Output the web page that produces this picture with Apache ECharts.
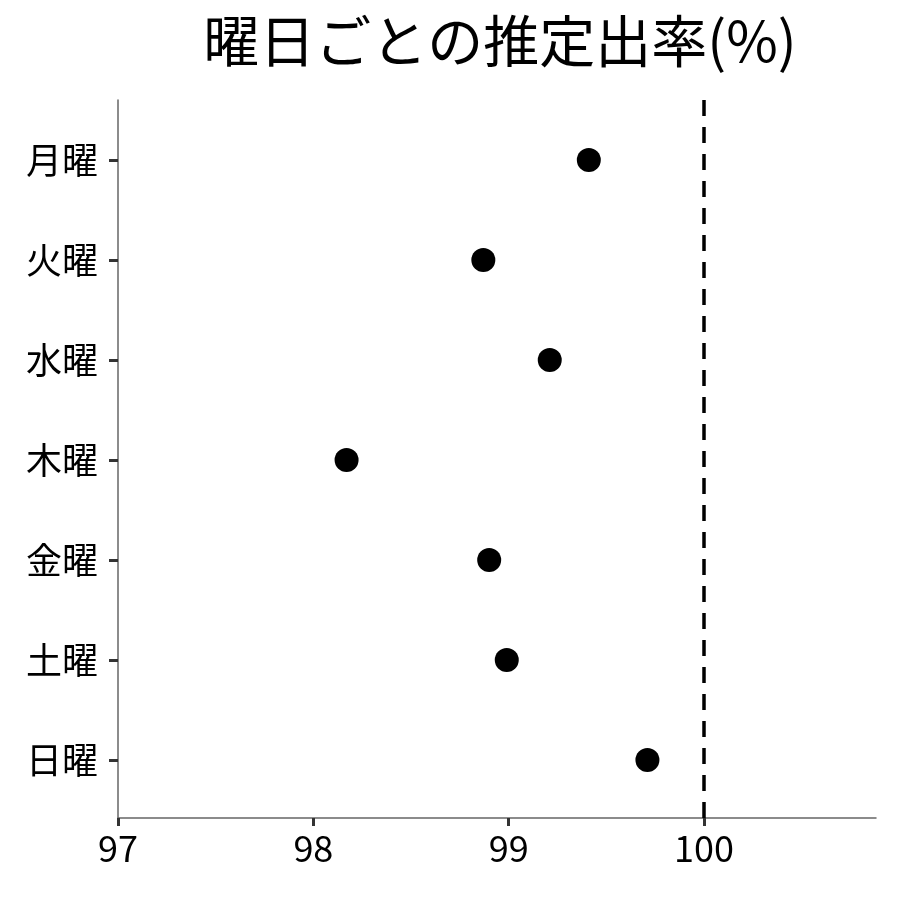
<!DOCTYPE html>
<html><head><meta charset="utf-8">
<script src="https://cdn.jsdelivr.net/npm/echarts@6/dist/echarts.min.js"></script>
<style>html,body{margin:0;padding:0;background:#fff}#c{width:900px;height:900px}</style>
</head><body><div id="c"></div>
<script>
const titleText = '曜日ごとの推定出率(%)';
const categories = ['月曜','火曜','水曜','木曜','金曜','土曜','日曜'];
const values = [99.41, 98.87, 99.21, 98.17, 98.90, 98.99, 99.71];
const xTicks = [97, 98, 99, 100];
const refValue = 100;

const n = categories.length;
const pts = values.map((v,i)=>[v, n-1-i]);
const chart = echarts.init(document.getElementById('c'), null, {renderer:'canvas'});
const font = '"Noto Sans CJK JP", "Noto Sans", sans-serif';
const yPos = categories.map((c,i)=>i);
chart.setOption({
  animation:false,
  title:{text:titleText,left:495,top:8,textAlign:'center',
    textStyle:{fontFamily:font,fontSize:56,fontWeight:'normal',color:'#000'}},
  grid:{left:118,right:24,top:100,bottom:82},
  xAxis:{type:'value',min:97,max:100.88,interval:1,
    axisLine:{show:true,onZero:false,lineStyle:{color:'#666',width:1.5}},
    axisTick:{show:true,length:8,lineStyle:{color:'#333',width:3},customValues:xTicks},
    axisLabel:{fontFamily:font,fontSize:36,color:'#000',margin:12,customValues:xTicks,
      formatter:v=>String(v)},
    splitLine:{show:false}},
  yAxis:{type:'value',min:-0.58,max:6.6,
    axisLine:{show:true,onZero:false,lineStyle:{color:'#666',width:1.5}},
    axisTick:{show:true,length:9,lineStyle:{color:'#333',width:3},customValues:yPos},
    axisLabel:{fontFamily:font,fontSize:36,color:'#000',margin:20,
      customValues:yPos,
      formatter:v=>categories[n-1-Math.round(v)]},
    splitLine:{show:false}},
  series:[{type:'scatter',data:pts,symbolSize:24,itemStyle:{color:'#000',opacity:1},
    markLine:{silent:true,symbol:'none',label:{show:false},
      lineStyle:{color:'#000',type:[16,11],width:3.5},
      data:[{xAxis:refValue}]}}]
});
</script></body></html>
